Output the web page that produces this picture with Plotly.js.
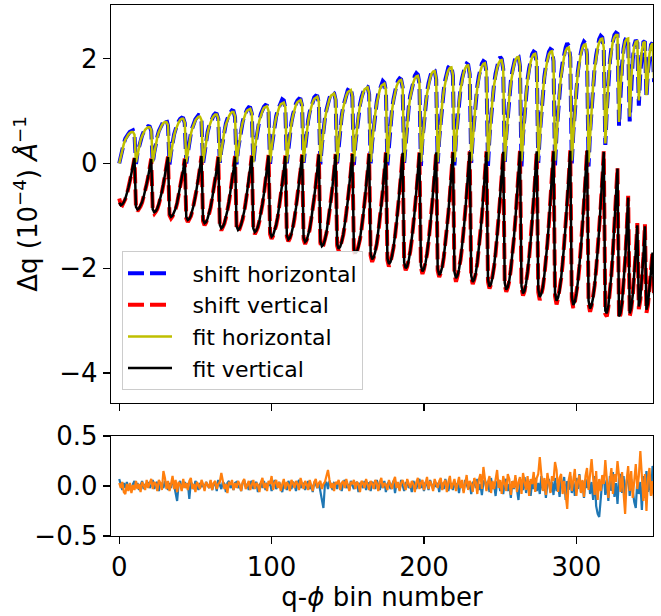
<!DOCTYPE html>
<html><head><meta charset="utf-8">
<script src="https://cdn.plot.ly/plotly-3.0.1.min.js"></script>
<style>html,body{margin:0;padding:0;background:#fff}</style>
</head><body>
<div id="chart" style="width:661px;height:616px"></div>
<script>
// q-phi bin data (units of 1e-4 1/Angstrom)
const shiftHorizontal = [
0,0.15,0.28,0.38,0.47,0.53,0.56,0.6,0.62,0.63,0.55,
-0.01,0.2,0.33,0.45,0.53,0.6,0.66,0.69,0.71,0.7,0.62,
0,0.21,0.39,0.51,0.62,0.69,0.75,0.8,0.84,0.83,0.72,
-0.02,0.21,0.4,0.55,0.65,0.74,0.8,0.85,0.87,0.86,0.77,
0,0.24,0.42,0.57,0.68,0.78,0.84,0.88,0.92,0.91,0.8,
-0.01,0.23,0.44,0.6,0.71,0.8,0.87,0.92,0.95,0.94,0.85,
0.01,0.26,0.46,0.63,0.76,0.85,0.92,0.97,1.01,1,0.88,
-0.02,0.27,0.49,0.66,0.79,0.9,0.98,1.03,1.07,1.06,0.95,
0,0.29,0.51,0.7,0.83,0.95,1.02,1.08,1.11,1.1,0.98,
-0.01,0.3,0.55,0.74,0.9,1.01,1.1,1.16,1.22,1.2,1.05,
0,0.32,0.57,0.78,0.93,1.05,1.14,1.2,1.23,1.22,1.1,
0.01,0.34,0.6,0.82,0.98,1.1,1.19,1.26,1.29,1.28,1.15,
-0.02,0.35,0.64,0.86,1.02,1.16,1.25,1.32,1.36,1.34,1.21,
0,0.37,0.66,0.9,1.08,1.21,1.32,1.4,1.45,1.42,1.27,
-0.03,0.38,0.69,0.93,1.12,1.26,1.37,1.44,1.47,1.46,1.32,
0,0.4,0.72,0.97,1.17,1.33,1.43,1.52,1.57,1.54,1.38,
-0.04,0.41,0.75,1.02,1.22,1.38,1.5,1.58,1.62,1.6,1.45,
0.01,0.43,0.79,1.07,1.29,1.45,1.58,1.67,1.72,1.69,1.52,
-0.05,0.46,0.83,1.12,1.36,1.53,1.65,1.75,1.79,1.77,1.6,
0,0.47,0.86,1.17,1.4,1.59,1.73,1.83,1.87,1.85,1.67,
-0.04,0.48,0.88,1.19,1.43,1.62,1.75,1.85,1.9,1.88,1.7,
0.01,0.5,0.9,1.22,1.47,1.66,1.8,1.9,1.95,1.93,1.74,
-0.05,0.51,0.93,1.26,1.52,1.71,1.86,1.96,2.03,1.99,1.8,
0,0.53,0.96,1.29,1.56,1.76,1.91,2.02,2.07,2.05,1.85,
-0.06,0.54,0.98,1.33,1.61,1.81,1.97,2.08,2.13,2.11,1.9,
0.01,0.55,1.01,1.36,1.65,1.86,2.01,2.13,2.18,2.16,1.95,
-0.05,0.58,1.04,1.41,1.7,1.92,2.08,2.21,2.29,2.24,2.02,
0,0.59,1.07,1.45,1.75,1.97,2.13,2.25,2.32,2.29,2.07,
-0.06,0.6,1.11,1.51,1.83,2.06,2.24,2.37,2.43,2.4,2.17,
0.35,1.02,1.55,1.94,2.2,2.36,2.45,2.49,2.47,
0.72,1.4,1.88,2.19,2.35,2.4,2.36,
0.8,1.5,1.98,2.25,2.35,2.3,
1.1,1.75,2.12,2.31,2.33,
1.25,1.75,2.07,2.26,2.3,1.55
];
const shiftVertical = [
-0.67,-0.78,-0.8,-0.75,-0.68,-0.6,-0.48,-0.35,-0.22,-0.07,0.1,
-0.85,-0.91,-0.87,-0.82,-0.75,-0.65,-0.54,-0.4,-0.26,-0.09,0.09,
-0.9,-0.96,-0.92,-0.87,-0.78,-0.68,-0.55,-0.4,-0.25,-0.07,0.13,
-0.99,-1.05,-1.01,-0.95,-0.87,-0.76,-0.62,-0.47,-0.3,-0.12,0.09,
-1.05,-1.12,-1.07,-1.01,-0.91,-0.79,-0.64,-0.47,-0.29,-0.08,0.14,
-1.1,-1.18,-1.13,-1.06,-0.96,-0.84,-0.68,-0.51,-0.32,-0.11,0.13,
-1.2,-1.28,-1.22,-1.15,-1.04,-0.91,-0.74,-0.55,-0.35,-0.12,0.14,
-1.22,-1.3,-1.25,-1.18,-1.07,-0.93,-0.76,-0.56,-0.35,-0.11,0.15,
-1.27,-1.35,-1.29,-1.22,-1.1,-0.96,-0.78,-0.58,-0.36,-0.11,0.16,
-1.35,-1.44,-1.38,-1.3,-1.18,-1.03,-0.84,-0.62,-0.39,-0.14,0.15,
-1.4,-1.49,-1.43,-1.35,-1.22,-1.06,-0.86,-0.64,-0.4,-0.13,0.17,
-1.45,-1.54,-1.48,-1.39,-1.26,-1.09,-0.89,-0.66,-0.41,-0.13,0.18,
-1.52,-1.62,-1.56,-1.47,-1.33,-1.15,-0.94,-0.7,-0.44,-0.15,0.18,
-1.57,-1.67,-1.6,-1.51,-1.37,-1.19,-0.97,-0.72,-0.45,-0.15,0.19,
-1.66,-1.76,-1.69,-1.6,-1.45,-1.26,-1.03,-0.76,-0.48,-0.16,0.19,
-1.76,-1.88,-1.8,-1.7,-1.54,-1.33,-1.09,-0.81,-0.5,-0.17,0.21,
-1.85,-1.97,-1.89,-1.78,-1.61,-1.4,-1.15,-0.85,-0.53,-0.18,0.21,
-1.92,-2.04,-1.97,-1.86,-1.68,-1.46,-1.2,-0.89,-0.56,-0.2,0.21,
-1.99,-2.11,-2.02,-1.91,-1.73,-1.5,-1.23,-0.91,-0.57,-0.2,0.22,
-2.05,-2.17,-2.09,-1.98,-1.79,-1.56,-1.27,-0.95,-0.6,-0.21,0.22,
-2.11,-2.26,-2.15,-2.03,-1.84,-1.6,-1.31,-0.97,-0.61,-0.21,0.23,
-2.18,-2.3,-2.22,-2.1,-1.9,-1.65,-1.35,-1.01,-0.63,-0.23,0.23,
-2.26,-2.39,-2.31,-2.18,-1.97,-1.72,-1.41,-1.05,-0.66,-0.24,0.23,
-2.32,-2.45,-2.37,-2.24,-2.02,-1.76,-1.44,-1.07,-0.68,-0.25,0.24,
-2.38,-2.52,-2.44,-2.3,-2.08,-1.81,-1.49,-1.11,-0.7,-0.26,0.24,
-2.46,-2.61,-2.5,-2.37,-2.14,-1.87,-1.53,-1.14,-0.73,-0.27,0.24,
-2.53,-2.69,-2.57,-2.43,-2.2,-1.92,-1.57,-1.17,-0.74,-0.28,0.25,
-2.6,-2.76,-2.65,-2.5,-2.27,-1.97,-1.62,-1.21,-0.76,-0.28,0.26,
-2.68,-2.83,-2.72,-2.57,-2.33,-2.03,-1.67,-1.26,-0.81,-0.32,0.23,
-2.87,-2.92,-2.74,-2.48,-2.13,-1.68,-1.21,-0.69,-0.08,
-2.97,-2.88,-2.66,-2.32,-1.86,-1.3,-0.62,
-2.92,-2.78,-2.53,-2.16,-1.69,-1.14,
-2.78,-2.6,-2.24,-1.78,-1.16,
-2.85,-2.7,-2.42,-2.07,-1.68,-2.55
];
const fitHorizontal = [
0,0.14,0.27,0.37,0.45,0.51,0.55,0.58,0.6,0.6,0.55,
0.02,0.18,0.32,0.44,0.52,0.59,0.64,0.67,0.69,0.69,0.64,
0.02,0.2,0.37,0.5,0.6,0.67,0.73,0.77,0.79,0.79,0.73,
0.02,0.22,0.39,0.53,0.64,0.73,0.78,0.83,0.85,0.85,0.78,
0.02,0.23,0.41,0.56,0.67,0.76,0.82,0.86,0.89,0.89,0.82,
0.02,0.24,0.43,0.58,0.7,0.79,0.86,0.9,0.93,0.93,0.86,
0.02,0.25,0.45,0.62,0.74,0.84,0.9,0.95,0.98,0.98,0.9,
0.02,0.26,0.48,0.65,0.78,0.89,0.96,1.01,1.03,1.04,0.96,
0.02,0.28,0.5,0.68,0.82,0.93,1,1.06,1.08,1.09,1,
0.02,0.29,0.53,0.73,0.88,0.99,1.07,1.13,1.15,1.16,1.07,
0.02,0.31,0.56,0.76,0.91,1.03,1.12,1.17,1.2,1.21,1.12,
0.03,0.33,0.59,0.8,0.96,1.08,1.17,1.23,1.26,1.27,1.17,
0.03,0.34,0.62,0.84,1,1.14,1.23,1.29,1.32,1.33,1.23,
0.03,0.36,0.65,0.88,1.06,1.19,1.29,1.36,1.39,1.4,1.29,
0.03,0.37,0.67,0.91,1.1,1.24,1.34,1.41,1.44,1.45,1.34,
0.03,0.39,0.7,0.95,1.15,1.3,1.4,1.48,1.51,1.52,1.4,
0.03,0.4,0.73,1,1.2,1.36,1.47,1.54,1.58,1.59,1.47,
0.03,0.42,0.77,1.05,1.26,1.42,1.54,1.62,1.66,1.67,1.54,
0.03,0.45,0.81,1.1,1.33,1.5,1.62,1.71,1.75,1.76,1.62,
0.03,0.46,0.84,1.15,1.38,1.56,1.69,1.78,1.82,1.83,1.69,
0.03,0.47,0.86,1.17,1.41,1.59,1.72,1.81,1.86,1.87,1.72,
0.04,0.49,0.88,1.2,1.44,1.63,1.76,1.85,1.9,1.91,1.76,
0.04,0.5,0.91,1.24,1.49,1.68,1.82,1.91,1.96,1.97,1.82,
0.04,0.52,0.94,1.27,1.53,1.73,1.87,1.97,2.02,2.03,1.87,
0.04,0.53,0.96,1.31,1.58,1.78,1.93,2.03,2.08,2.09,1.93,
0.04,0.54,0.99,1.34,1.62,1.83,1.97,2.08,2.13,2.14,1.97,
0.05,0.57,1.02,1.39,1.67,1.89,2.04,2.15,2.2,2.21,2.04,
0.05,0.58,1.05,1.43,1.72,1.94,2.09,2.2,2.26,2.27,2.09,
0.02,0.59,1.09,1.49,1.8,2.03,2.2,2.31,2.37,2.38,2.2,
0.38,1.04,1.56,1.93,2.18,2.33,2.41,2.45,2.45,
0.79,1.46,1.9,2.17,2.32,2.37,2.38,
0.89,1.58,2.01,2.23,2.32,2.33,
1.2,1.82,2.15,2.3,2.32,
1.3,1.8,2.09,2.24,2.29,1.6
];
const fitVertical = [
-0.75,-0.8,-0.78,-0.74,-0.67,-0.58,-0.47,-0.34,-0.21,-0.06,0.1,
-0.83,-0.88,-0.86,-0.81,-0.74,-0.64,-0.53,-0.39,-0.25,-0.09,0.08,
-0.88,-0.93,-0.91,-0.86,-0.77,-0.67,-0.54,-0.39,-0.24,-0.07,0.12,
-0.97,-1.02,-1,-0.94,-0.86,-0.75,-0.61,-0.46,-0.29,-0.12,0.08,
-1.02,-1.08,-1.06,-1,-0.9,-0.78,-0.63,-0.46,-0.28,-0.08,0.14,
-1.08,-1.14,-1.12,-1.05,-0.95,-0.83,-0.67,-0.5,-0.31,-0.11,0.12,
-1.17,-1.24,-1.21,-1.14,-1.03,-0.9,-0.73,-0.54,-0.34,-0.12,0.13,
-1.2,-1.27,-1.24,-1.17,-1.06,-0.92,-0.75,-0.55,-0.34,-0.11,0.14,
-1.24,-1.31,-1.28,-1.21,-1.09,-0.95,-0.77,-0.57,-0.35,-0.11,0.15,
-1.32,-1.4,-1.37,-1.29,-1.17,-1.02,-0.83,-0.61,-0.38,-0.14,0.14,
-1.37,-1.45,-1.42,-1.34,-1.21,-1.05,-0.85,-0.63,-0.39,-0.13,0.16,
-1.42,-1.5,-1.47,-1.38,-1.25,-1.08,-0.88,-0.65,-0.4,-0.13,0.17,
-1.49,-1.58,-1.55,-1.46,-1.32,-1.14,-0.93,-0.69,-0.43,-0.15,0.17,
-1.54,-1.63,-1.59,-1.5,-1.36,-1.18,-0.96,-0.71,-0.44,-0.15,0.18,
-1.63,-1.72,-1.68,-1.59,-1.44,-1.25,-1.02,-0.75,-0.47,-0.16,0.18,
-1.73,-1.83,-1.79,-1.69,-1.53,-1.32,-1.08,-0.8,-0.49,-0.17,0.2,
-1.81,-1.92,-1.88,-1.77,-1.6,-1.39,-1.14,-0.84,-0.52,-0.18,0.2,
-1.89,-2,-1.96,-1.85,-1.67,-1.45,-1.19,-0.88,-0.55,-0.2,0.2,
-1.95,-2.06,-2.01,-1.9,-1.72,-1.49,-1.22,-0.9,-0.56,-0.2,0.21,
-2.01,-2.13,-2.08,-1.97,-1.78,-1.55,-1.26,-0.94,-0.59,-0.21,0.21,
-2.07,-2.19,-2.14,-2.02,-1.83,-1.59,-1.3,-0.96,-0.6,-0.21,0.22,
-2.14,-2.26,-2.21,-2.09,-1.89,-1.64,-1.34,-1,-0.62,-0.23,0.22,
-2.22,-2.35,-2.3,-2.17,-1.96,-1.71,-1.4,-1.04,-0.65,-0.24,0.22,
-2.28,-2.41,-2.36,-2.23,-2.01,-1.75,-1.43,-1.06,-0.67,-0.25,0.23,
-2.34,-2.48,-2.43,-2.29,-2.07,-1.8,-1.48,-1.1,-0.69,-0.26,0.23,
-2.41,-2.55,-2.49,-2.36,-2.13,-1.86,-1.52,-1.13,-0.72,-0.27,0.23,
-2.48,-2.62,-2.56,-2.42,-2.19,-1.91,-1.56,-1.16,-0.73,-0.28,0.24,
-2.55,-2.7,-2.64,-2.49,-2.26,-1.96,-1.61,-1.2,-0.75,-0.28,0.25,
-2.62,-2.77,-2.71,-2.56,-2.32,-2.02,-1.66,-1.25,-0.8,-0.32,0.22,
-2.81,-2.86,-2.72,-2.47,-2.12,-1.67,-1.2,-0.68,-0.1,
-2.92,-2.85,-2.65,-2.31,-1.85,-1.29,-0.65,
-2.86,-2.76,-2.52,-2.15,-1.68,-1.18,
-2.73,-2.58,-2.23,-1.77,-1.2,
-2.79,-2.68,-2.41,-2.06,-1.7,-2.5
];
const residualHorizontal = [
0.07,0.02,-0.04,0.03,-0.02,0.04,-0.03,0.01,-0.05,0.02,0.05,
-0.02,0.03,-0.04,0.01,0.05,-0.03,0.02,-0.01,0.04,-0.02,0.01,
0.06,-0.03,0.02,0.04,-0.05,0.03,0.01,-0.02,0.05,0.02,-0.04,
0.03,-0.02,0.06,0.01,-0.08,-0.15,0.02,0.05,-0.03,0.01,0.04,
-0.02,0.03,-0.13,0.04,0.01,-0.03,0.05,0.02,-0.04,0.03,-0.01,
0.02,-0.03,0.04,0.01,-0.02,0.05,-0.04,0.02,0.03,-0.05,0.06,
0.01,-0.03,0.04,0.02,-0.06,0.03,0.05,-0.02,0.01,-0.04,0.03,
0.04,-0.02,0.01,-0.05,0.03,0.06,-0.01,0.02,-0.04,0.03,0.05,
-0.03,0.02,0.04,-0.06,0.01,0.03,-0.02,0.05,-0.04,0.02,0.01,
0.03,-0.05,0.02,0.06,-0.03,0.01,0.04,-0.02,-0.06,0.03,0.02,
-0.04,0.05,0.01,-0.03,0.04,0.02,-0.05,0.03,0.06,-0.02,0.01,
0.03,-0.04,0.02,0.05,-0.03,0.01,-0.06,0.04,0.02,-0.02,0.03,
-0.05,-0.12,-0.22,0.02,0.04,-0.03,0.05,0.01,-0.04,0.03,0.02,
-0.03,0.04,0.01,-0.05,0.03,0.06,-0.02,0.02,-0.04,0.05,0.01,
-0.03,0.02,0.04,-0.06,0.03,0.01,-0.02,0.05,-0.04,0.02,0.03,
-0.05,0.04,0.02,-0.03,0.06,0.01,-0.04,0.03,-0.02,0.05,-0.06,
0.02,0.04,-0.03,0.01,0.05,-0.07,0.03,0.02,-0.04,0.06,0.01,
-0.05,0.03,0.04,-0.02,0.01,-0.06,0.05,0.02,-0.03,0.04,0.07,
-0.02,0.03,-0.05,0.04,0.01,-0.04,0.06,0.02,-0.03,0.05,-0.01,
0.03,-0.06,0.04,0.02,-0.03,0.07,0.01,-0.05,0.03,0.02,-0.04,
0.05,-0.02,0.03,-0.07,0.04,0.01,-0.05,0.06,0.02,-0.03,0.04,
-0.08,0.03,0.05,-0.02,0.07,-0.04,0.02,-0.09,0.04,0.06,-0.03,
0.05,-0.06,0.08,-0.03,0.02,-0.1,0.04,0.06,-0.05,0.03,-0.08,
0.04,0.07,-0.05,0.02,-0.12,0.05,-0.03,0.08,-0.06,-0.14,0.03,
0.06,-0.04,0.09,-0.07,0.02,0.05,-0.1,0.04,-0.03,0.08,-0.05,
0.03,-0.08,0.1,-0.04,0.06,-0.12,0.02,0.07,-0.06,0.04,-0.09,
0.08,-0.05,0.03,-0.11,0.06,-0.02,0.09,-0.14,0.05,-0.04,0.1,
-0.07,0.04,-0.1,0.08,-0.03,0.12,-0.06,0.05,-0.12,0.07,-0.02,
0.09,-0.08,0.04,-0.14,0.1,-0.2,-0.28,-0.31,-0.12,0.05,0.11,
-0.09,0.06,-0.15,0.1,-0.05,0.14,-0.11,0.03,-0.18,0.08,0.12,
-0.07,0.1,-0.13,0.05,0.12,-0.1,0.07,-0.05,-0.16,-0.22,0.06,
-0.08,0.04,-0.24,0.1,-0.12,0.15,-0.06,0.08,-0.1,0.2,0.12
];
const residualVertical = [
0.03,-0.02,0.04,-0.06,-0.08,0.02,-0.05,0.03,-0.07,0.01,-0.04,
0.05,-0.03,0.02,-0.06,0.04,0.01,-0.04,0.06,-0.02,0.03,0.07,
-0.03,0.04,0.02,-0.05,0.06,0.03,-0.04,0.15,0.08,-0.03,0.05,
-0.05,0.02,0.1,-0.03,0.06,-0.06,0.04,0.01,-0.05,0.07,-0.02,
0.03,-0.04,0.05,0.08,-0.03,0.02,-0.06,0.04,0.01,-0.03,0.06,
0.02,-0.05,0.04,0.01,-0.02,0.06,-0.04,0.03,0.05,-0.03,0.02,
0.04,0.13,0.05,-0.03,0.02,-0.07,0.04,0.01,0.06,-0.04,0.03,
-0.02,0.05,0.02,-0.05,0.04,0.07,-0.03,0.01,0.05,-0.04,0.02,
0.06,-0.03,0.03,0.01,-0.06,0.04,0.08,-0.02,0.03,-0.05,0.05,
0.02,0.1,-0.04,0.03,0.06,-0.02,0.04,-0.05,0.02,0.07,-0.03,
0.04,0.01,-0.05,0.06,0.03,-0.02,0.05,0.02,-0.04,0.08,0.03,
-0.03,0.05,0.02,-0.04,0.06,0.01,-0.05,0.04,0.07,-0.02,0.03,
0.05,-0.03,0.02,0.04,0.1,0.16,0.06,-0.02,0.03,-0.05,0.04,
0.02,0.06,-0.04,0.03,0.05,-0.02,0.07,0.01,-0.05,0.04,0.02,
0.06,-0.03,0.04,0.02,-0.06,0.05,0.03,-0.02,0.07,0.01,-0.04,
0.05,0.02,-0.03,0.06,0.03,-0.05,0.04,0.08,-0.02,0.03,0.01,
-0.04,0.06,0.02,-0.03,0.05,0.09,-0.02,0.04,-0.05,0.03,0.06,
0.01,-0.04,0.07,0.03,-0.02,0.05,0.02,-0.06,0.04,0.08,-0.03,
0.03,0.06,-0.04,0.02,0.09,-0.03,0.05,0.01,-0.05,0.07,0.03,
-0.02,0.05,0.08,-0.04,0.03,0.06,-0.06,0.04,0.1,-0.03,0.02,
0.07,-0.05,0.04,0.09,-0.02,0.06,-0.07,0.03,0.11,-0.04,0.05,
0.02,-0.06,0.08,0.04,-0.08,0.06,0.12,-0.03,0.19,0.08,-0.05,
0.04,0.1,-0.07,0.05,-0.03,0.08,0.16,-0.02,0.06,-0.08,0.1,
0.03,-0.05,0.12,0.07,-0.09,0.05,-0.02,0.11,-0.06,0.04,0.09,
-0.08,0.13,0.05,-0.04,0.1,-0.1,0.07,0.02,0.14,-0.06,0.08,
0.12,0.29,0.1,-0.05,0.08,-0.09,0.13,0.04,-0.07,0.1,0.05,
0.24,0.16,-0.06,0.08,0.12,-0.08,0.05,-0.12,-0.23,0.06,0.14,
-0.05,0.09,0.17,-0.1,0.04,0.11,-0.07,0.06,-0.11,0.1,0.18,
-0.04,0.12,0.27,0.08,-0.09,0.15,-0.14,0.07,-0.05,0.11,0.02,
0.26,0.1,-0.12,0.05,0.18,-0.08,0.12,0.04,0.25,0.1,-0.06,
0.14,-0.1,-0.28,0.06,0.2,-0.05,0.15,-0.12,0.08,0.22,-0.03,
0.1,0.35,0.05,-0.15,0.12,-0.25,0.08,0.18,-0.1,0.05,-0.14
];
const xTickValues = [0, 100, 200, 300];
const yTopTickValues = [-4, -2, 0, 2];
const yBottomTickValues = [-0.5, 0, 0.5];
const seriesNames = ['shift horizontal', 'shift vertical', 'fit horizontal', 'fit vertical'];

const binNumber = shiftHorizontal.map((_, i) => i);

const FONT = 'DejaVu Sans, Liberation Sans, sans-serif';
const LEG_PAD = '\u2002\u2009';
const traces = [
  {x: binNumber, y: shiftHorizontal, xaxis: 'x2', yaxis: 'y2', mode: 'lines', name: LEG_PAD + seriesNames[0],
   legendgroup: 'a', line: {color: '#0000ff', width: 4, dash: '16px,6px'}},
  {x: binNumber, y: shiftVertical, xaxis: 'x2', yaxis: 'y2', mode: 'lines', name: LEG_PAD + seriesNames[1],
   legendgroup: 'b', line: {color: '#ff0000', width: 4, dash: '16px,6px'}},
  {x: binNumber, y: fitHorizontal, xaxis: 'x2', yaxis: 'y2', mode: 'lines', name: LEG_PAD + seriesNames[2],
   legendgroup: 'c', line: {color: '#bfbf00', width: 2.5}},
  {x: binNumber, y: fitVertical, xaxis: 'x2', yaxis: 'y2', mode: 'lines', name: LEG_PAD + seriesNames[3],
   legendgroup: 'd', line: {color: '#000000', width: 2.5}},
  {x: binNumber, y: residualHorizontal, xaxis: 'x', yaxis: 'y', mode: 'lines', showlegend: false,
   line: {color: '#1f77b4', width: 2.2}},
  {x: binNumber, y: residualVertical, xaxis: 'x', yaxis: 'y', mode: 'lines', showlegend: false,
   line: {color: '#ff7f0e', width: 2.2}}
];

const axisCommon = {
  showgrid: false, zeroline: false, showline: true, mirror: true,
  linecolor: '#000', linewidth: 1.3, ticks: 'outside', ticklen: 7, tickwidth: 1.3,
  tickcolor: '#000', tickfont: {size: 26, color: '#000', family: FONT}
};

const layout = {
  width: 661, height: 616,
  margin: {l: 111, r: 8, t: 5, b: 80},
  paper_bgcolor: '#fff', plot_bgcolor: '#fff',
  font: {family: FONT, color: '#000'},
  showlegend: true,
  xaxis: Object.assign({}, axisCommon, {
    domain: [0, 1], anchor: 'y', range: [-5.4, 350.3], tickmode: 'array', tickvals: xTickValues,
    title: {text: 'q-<i>ϕ</i> bin number', font: {size: 26, family: FONT, color: '#000'}, standoff: 7}
  }),
  xaxis2: Object.assign({}, axisCommon, {
    domain: [0, 1], anchor: 'y2', range: [-5.4, 350.3], tickmode: 'array', tickvals: xTickValues,
    showticklabels: false
  }),
  yaxis: Object.assign({}, axisCommon, {
    domain: [0, 0.1883], anchor: 'x', range: [-0.5, 0.5], tickmode: 'array',
    tickvals: yBottomTickValues, tickformat: '.1f'
  }),
  yaxis2: Object.assign({}, axisCommon, {
    domain: [0.2505, 1], anchor: 'x2', range: [-4.57, 3.02], tickmode: 'array',
    tickvals: yTopTickValues,
    title: {text: 'Δq (10<sup>−4</sup>) <i>Å</i><sup>−1</sup>', font: {size: 26, family: FONT, color: '#000'}, standoff: 14}
  }),
  legend: {
    x: 0.0203, y: 0.536, xanchor: 'left', yanchor: 'top',
    bgcolor: 'rgba(255,255,255,0.85)', bordercolor: '#cccccc', borderwidth: 1,
    font: {size: 22, family: FONT, color: '#000'}, itemwidth: 44,
    traceorder: 'grouped', tracegroupgap: 0
  }
};

Plotly.newPlot('chart', traces, layout, {displayModeBar: false, staticPlot: true});
</script>
</body></html>
